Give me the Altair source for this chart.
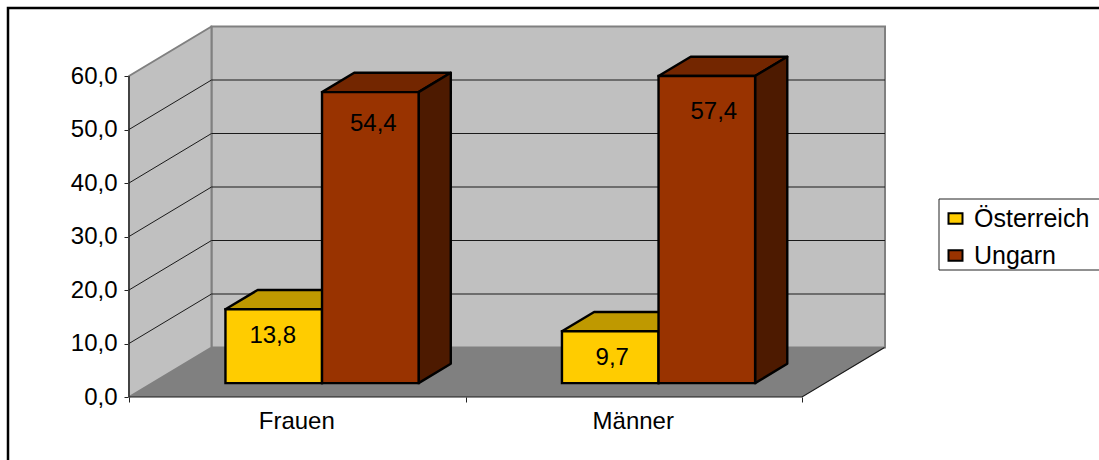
import altair as alt
import pandas as pd

# Values shown on the bars
categories = ["Frauen", "Männer"]
series = ["Österreich", "Ungarn"]
oesterreich = [13.8, 9.7]
ungarn = [54.4, 57.4]
value_ticks = [0, 10, 20, 30, 40, 50, 60]

# Colours of the box: front, top and side faces per series
FRONT = {"Österreich": "#FFCC00", "Ungarn": "#993300"}
TOP = {"Österreich": "#BF9900", "Ungarn": "#732600"}
SIDE = {"Österreich": "#806600", "Ungarn": "#4D1A00"}
WALL = "#C0C0C0"
FLOOR = "#808080"
EDGE = "#808080"
FONT = "Liberation Sans"
FONT_SIZE = 24
FACE_STROKE = 2.4

# Oblique projection: data units per full step of depth
CAT_PX = 336.5
VAL_PX = 5.35
PLOT_W = 756
PLOT_H = 370
DX = 82.5 / CAT_PX
DY = 49.5 / VAL_PX
X_MAX = PLOT_W / CAT_PX
Y_MAX = PLOT_H / VAL_PX

# Bar placement inside a category, and within the depth of the box
GAP = 0.218
BAR_W = 0.287
D_FRONT = 0.28
D_BACK = 0.67

# Pixel nudges (dx, dy) of the data labels relative to the top centre of the bar front
LABEL_NUDGE = {
    ("Frauen", "Österreich"): (-1, 27),
    ("Frauen", "Ungarn"): (3, 32),
    ("Männer", "Österreich"): (2, 27),
    ("Männer", "Ungarn"): (7, 36),
}

x_scale = alt.Scale(domain=[0, X_MAX], nice=False, zero=False)
y_scale = alt.Scale(domain=[0, Y_MAX], nice=False, zero=False)

x_axis = alt.Axis(
    values=[0, 1, 2], labels=False, domain=False, grid=False, title=None,
    tickSize=5, tickColor="#222222", tickWidth=1,
)
y_axis = alt.Axis(
    values=value_ticks, domain=False, grid=False, title=None,
    tickSize=5, tickColor="#222222", tickWidth=1,
    labelPadding=7, labelFont=FONT, labelFontSize=FONT_SIZE, labelColor="black",
    labelExpr="replace(format(datum.value, '.1f'), '.', ',')",
)


def px(cat_pos, depth):
    return cat_pos + depth * DX


def py(value, depth):
    return value + depth * DY


def X(field="x"):
    return alt.X(f"{field}:Q", scale=x_scale, axis=x_axis)


def Y(field="y"):
    return alt.Y(f"{field}:Q", scale=y_scale, axis=y_axis)


# Box walls and floor
back_wall = alt.Chart(pd.DataFrame([{"x": DX, "x2": X_MAX, "y": DY, "y2": 60 + DY}])).mark_rect(
    fill=WALL, stroke=EDGE, strokeWidth=2
).encode(x=X(), x2="x2:Q", y=Y(), y2="y2:Q")

left_wall = alt.Chart(
    pd.DataFrame([{"x": 0, "y": 0, "y2": 60}, {"x": DX, "y": DY, "y2": 60 + DY}])
).mark_area(fill=WALL, stroke=EDGE, strokeWidth=2, strokeJoin="round", orient="vertical").encode(
    x=X(), y=Y(), y2="y2:Q"
)

floor = alt.Chart(
    pd.DataFrame([{"y": 0, "x": 0, "x2": 2}, {"y": DY, "x": DX, "x2": X_MAX}])
).mark_area(fill=FLOOR, orient="horizontal").encode(y=Y(), x=X(), x2="x2:Q")

# Gridlines run up the left wall and across the back wall
grid_rows = []
for v in value_ticks[1:-1]:
    grid_rows += [
        {"v": v, "o": 0, "x": 0, "y": v},
        {"v": v, "o": 1, "x": DX, "y": v + DY},
        {"v": v, "o": 2, "x": X_MAX, "y": v + DY},
    ]
gridlines = alt.Chart(pd.DataFrame(grid_rows)).mark_line(color="#1a1a1a", strokeWidth=1).encode(
    x=X(), y=Y(), detail="v:N", order="o:Q"
)

# Front edges of the box
edges = alt.Chart(
    pd.DataFrame(
        [
            {"e": "value", "o": 0, "x": 0, "y": 0},
            {"e": "value", "o": 1, "x": 0, "y": 60},
            {"e": "base", "o": 0, "x": 0, "y": 0},
            {"e": "base", "o": 1, "x": 2, "y": 0},
            {"e": "base", "o": 2, "x": 2 + DX, "y": DY},
        ]
    )
).mark_line(color="#1a1a1a", strokeWidth=1.2).encode(x=X(), y=Y(), detail="e:N", order="o:Q")

# Faces of each bar, all derived from the values
fronts, tops, sides = [], [], []
for c, cat in enumerate(categories):
    for s, (name, vals) in enumerate(zip(series, [oesterreich, ungarn])):
        v = vals[c]
        left = c + GAP + s * BAR_W
        right = left + BAR_W
        key = f"{cat}-{name}"
        fronts.append(
            {
                "series": name,
                "category": cat,
                "value": v,
                "x": px(left, D_FRONT),
                "x2": px(right, D_FRONT),
                "y": py(0, D_FRONT),
                "y2": py(v, D_FRONT),
            }
        )
        tops += [
            {"k": key, "fill": TOP[name], "y": py(v, D_FRONT),
             "x": px(left, D_FRONT), "x2": px(right, D_FRONT)},
            {"k": key, "fill": TOP[name], "y": py(v, D_BACK),
             "x": px(left, D_BACK), "x2": px(right, D_BACK)},
        ]
        sides += [
            {"k": key, "fill": SIDE[name], "x": px(right, D_FRONT),
             "y": py(0, D_FRONT), "y2": py(v, D_FRONT)},
            {"k": key, "fill": SIDE[name], "x": px(right, D_BACK),
             "y": py(0, D_BACK), "y2": py(v, D_BACK)},
        ]

top_faces = alt.Chart(pd.DataFrame(tops)).mark_area(
    stroke="black", strokeWidth=FACE_STROKE, strokeJoin="round", orient="horizontal"
).encode(
    y=Y(), x=X(), x2="x2:Q", detail="k:N", fill=alt.Fill("fill:N", scale=None)
)
side_faces = alt.Chart(pd.DataFrame(sides)).mark_area(
    stroke="black", strokeWidth=FACE_STROKE, strokeJoin="round", orient="vertical"
).encode(
    x=X(), y=Y(), y2="y2:Q", detail="k:N", fill=alt.Fill("fill:N", scale=None)
)
front_faces = alt.Chart(pd.DataFrame(fronts)).mark_rect(stroke="black", strokeWidth=FACE_STROKE).encode(
    x=X(),
    x2="x2:Q",
    y=Y(),
    y2="y2:Q",
    fill=alt.Fill(
        "series:N",
        scale=alt.Scale(domain=series, range=[FRONT[n] for n in series]),
        legend=alt.Legend(
            title=None,
            orient="none",
            legendX=814,
            legendY=179,
            labelFont=FONT,
            labelFontSize=25,
            labelColor="black",
            labelOffset=6,
            rowPadding=11,
            symbolType="M-1,-0.75H1V0.75H-1Z",
            symbolSize=196,
            symbolStrokeColor="black",
            symbolStrokeWidth=2,
            symbolOpacity=1,
        ),
    ),
)

# Data labels printed on the front faces
bar_labels = []
for row in fronts:
    nudge_x, nudge_y = LABEL_NUDGE[(row["category"], row["series"])]
    bar_labels.append(
        alt.Chart(pd.DataFrame([{**row, "label": f"{row['value']:.1f}".replace(".", ",")}]))
        .mark_text(font=FONT, fontSize=FONT_SIZE, color="black", baseline="middle", dx=nudge_x, dy=nudge_y)
        .encode(x=X("xc"), y=Y("y2"), text="label:N")
        .transform_calculate(xc="(datum.x + datum.x2) / 2")
    )

# Category names under the base line
cat_labels = alt.Chart(
    pd.DataFrame({"category": categories, "pos": [0.5, 1.5], "y": [0, 0]})
).mark_text(font=FONT, fontSize=FONT_SIZE, color="black", baseline="middle", dy=25, dx=-0.5).encode(
    x=X("pos"), y=Y(), text="category:N"
)

# Chart frame and legend box, placed in pixels; both run off the right edge of the page
frame = alt.Chart(pd.DataFrame({"a": [0]})).mark_rect(
    fillOpacity=0, stroke="black", strokeWidth=2.5
).encode(
    x=alt.value(-121), x2=alt.value(1100), y=alt.value(-19), y2=alt.value(520)
)
legend_box = alt.Chart(pd.DataFrame({"a": [0]})).mark_rect(
    fillOpacity=0, stroke="#222222", strokeWidth=1
).encode(
    x=alt.value(810), x2=alt.value(1100), y=alt.value(172), y2=alt.value(243)
)

chart = alt.layer(
    frame,
    legend_box,
    back_wall,
    left_wall,
    floor,
    gridlines,
    edges,
    top_faces,
    side_faces,
    front_faces,
    *bar_labels,
    cat_labels,
).properties(
    width=PLOT_W,
    height=PLOT_H,
    padding={"left": 129, "top": 27, "right": 214, "bottom": 63},
    autosize=alt.AutoSizeParams(type="none"),
    background="white",
).configure_view(stroke=None)

chart.save("out.html", embed_options={"renderer": "svg", "actions": False})
